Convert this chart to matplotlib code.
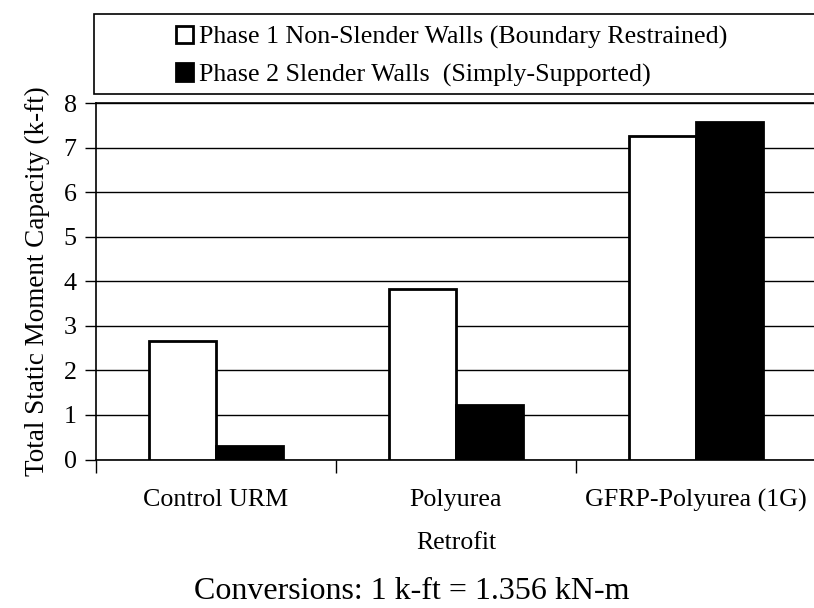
import matplotlib
matplotlib.use("Agg")
import matplotlib.pyplot as plt
from matplotlib.patches import Rectangle
import numpy as np

# Data
categories = ["Control URM", "Polyurea", "GFRP-Polyurea (1G)"]
phase1 = [2.67, 3.82, 7.25]
phase2 = [0.30, 1.22, 7.58]
series_labels = ["Phase 1 Non-Slender Walls (Boundary Restrained)",
                 "Phase 2 Slender Walls  (Simply-Supported)"]
y_ticks = [0, 1, 2, 3, 4, 5, 6, 7, 8]

plt.rcParams["font.family"] = ["Liberation Serif", "DejaVu Serif"]

W, H = 814, 608
fig = plt.figure(figsize=(W / 100, H / 100), dpi=100)

# axes placement in pixels
x0, x1 = 96, 816
y_top, y_bot = 103, 459.5
ax = fig.add_axes([x0 / W, 1 - y_bot / H, (x1 - x0) / W, (y_bot - y_top) / H])

x = np.arange(len(categories))
bw = 0.28
ax.bar(x - bw / 2, phase1, bw, color="white", edgecolor="black", linewidth=2, zorder=3)
ax.bar(x + bw / 2, phase2, bw, color="black", edgecolor="black", linewidth=2, zorder=3)

ax.set_xlim(-0.5, len(categories) - 0.5)
ax.set_ylim(0, 8)
ax.set_yticks(y_ticks)
ax.yaxis.grid(True, color="black", linewidth=1.0, zorder=0)
ax.set_axisbelow(True)

# category boundaries get the tick marks, names sit in between
ax.set_xticks(np.arange(-0.5, len(categories), 1.0))
ax.set_xticklabels([])
ax.set_xticks(x, minor=True)
ax.set_xticklabels(categories, minor=True, fontsize=18.7)
ax.tick_params(axis="x", which="major", direction="out", length=9, width=1)
ax.tick_params(axis="x", which="minor", length=0, pad=21)
ax.tick_params(axis="y", direction="out", length=8, width=1, labelsize=18.7, pad=6)

for s in ["left", "bottom", "top"]:
    ax.spines[s].set_linewidth(1.2)
ax.spines["right"].set_visible(False)

ax.set_xlabel("Retrofit", fontsize=18.5, va="top")
ax.xaxis.set_label_coords(0.5, (y_bot - 532) / (y_bot - y_top))
ax.set_ylabel("Total Static Moment Capacity (k-ft)", fontsize=19.5, labelpad=10)

# legend box across the top
fig.patches.append(Rectangle((94 / W, 1 - 94 / H), (W + 10 - 94) / W, (94 - 14) / H,
                             transform=fig.transFigure, facecolor="white",
                             edgecolor="black", linewidth=1.2))
handles = [Rectangle((0, 0), 1, 1, facecolor="white", edgecolor="black", linewidth=2),
           Rectangle((0, 0), 1, 1, facecolor="black", edgecolor="black", linewidth=2)]
fig.legend(handles, series_labels, loc="upper left",
           bbox_to_anchor=(176 / W, 1 - 26 / H), frameon=False, fontsize=18.7,
           handlelength=0.65, handleheight=0.65, handletextpad=0.23,
           labelspacing=0.55, borderpad=0, borderaxespad=0)

fig.text(411.5 / W, 1 - 599 / H, "Conversions: 1 k-ft = 1.356 kN-m",
         ha="center", va="baseline", fontsize=23)

fig.savefig("out.png", dpi=100)
